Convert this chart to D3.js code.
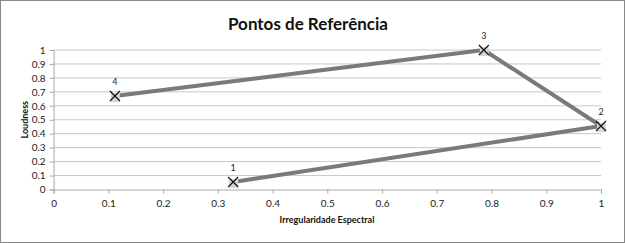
<!DOCTYPE html>
<html><head><meta charset="utf-8">
<script src="https://cdn.jsdelivr.net/npm/d3@7"></script>
<style>body{margin:0;background:#fff}svg{display:block}</style>
</head><body>
<script>
const pointLabels = ["1","2","3","4"];
const xValues = [0.328, 1.0, 0.786, 0.112];
const yValues = [0.054, 0.455, 1.0, 0.67];
const xTicks = [0,0.1,0.2,0.3,0.4,0.5,0.6,0.7,0.8,0.9,1];
const yTicks = [0,0.1,0.2,0.3,0.4,0.5,0.6,0.7,0.8,0.9,1];

const W=625,H=243;
const svg=d3.select("body").append("svg").attr("width",W).attr("height",H);
const font="Lato, 'Open Sans', sans-serif";
svg.append("rect").attr("x",0.5).attr("y",0.5).attr("width",W-1).attr("height",H-1)
  .attr("fill","#fff").attr("stroke","#8a8a8a");

const x=d3.scaleLinear().domain([0,1]).range([53.6,601]);
const y=d3.scaleLinear().domain([0,1]).range([189.5,50]);

// grid
svg.append("g").selectAll("line").data(yTicks.filter(d=>d>0)).join("line")
  .attr("x1",x(0)).attr("x2",x(1)).attr("y1",d=>y(d)).attr("y2",d=>y(d))
  .attr("stroke","#c8c8c8").attr("stroke-width",1);

const yAxis=svg.append("g").attr("transform",`translate(${x(0)},0)`)
  .call(d3.axisLeft(y).tickValues(yTicks).tickFormat(d3.format("")).tickSize(4).tickPadding(4));
const xAxis=svg.append("g").attr("transform",`translate(0,${y(0)})`)
  .call(d3.axisBottom(x).tickValues(xTicks).tickFormat(d3.format("")).tickSize(4).tickPadding(6));
[yAxis,xAxis].forEach(a=>{
  a.select(".domain").attr("stroke","#a8a8a8");
  a.selectAll(".tick line").attr("stroke","#a8a8a8");
  a.selectAll("text").attr("font-family",font).attr("font-size",10).attr("fill","#222");
});

const pts=xValues.map((v,i)=>({x:v,y:yValues[i],l:pointLabels[i]}));
const line=d3.line().x(d=>x(d.x)).y(d=>y(d.y));
svg.append("path").datum(pts).attr("d",line).attr("fill","none")
  .attr("stroke","#7a7a7a").attr("stroke-width",4).attr("stroke-linejoin","round");

const m=svg.append("g").selectAll("g").data(pts).join("g")
  .attr("transform",d=>`translate(${x(d.x)},${y(d.y)})`);
m.append("rect").attr("x",-4).attr("y",-3).attr("width",9).attr("height",9).attr("fill","#d6d6d6");
m.append("path").attr("d","M-5,-5L5,5M-5,5L5,-5").attr("stroke","#111").attr("stroke-width",1.2);
m.append("text").attr("x",0).attr("y",-11).attr("text-anchor","middle")
  .attr("font-family",font).attr("font-size",9).attr("fill","#222").text(d=>d.l);

svg.append("text").attr("x",308).attr("y",30).attr("text-anchor","middle")
  .attr("font-family",font).attr("font-weight","bold").attr("font-size",17).attr("fill","#111")
  .text("Pontos de Referência");
svg.append("text").attr("transform",`translate(28,${y(0.5)}) rotate(-90)`).attr("text-anchor","middle")
  .attr("font-family",font).attr("font-weight","bold").attr("font-size",9).attr("fill","#111")
  .text("Loudness");
svg.append("text").attr("x",327).attr("y",223).attr("text-anchor","middle")
  .attr("font-family",font).attr("font-weight","bold").attr("font-size",9).attr("fill","#111")
  .text("Irregularidade Espectral");
</script>
</body></html>
